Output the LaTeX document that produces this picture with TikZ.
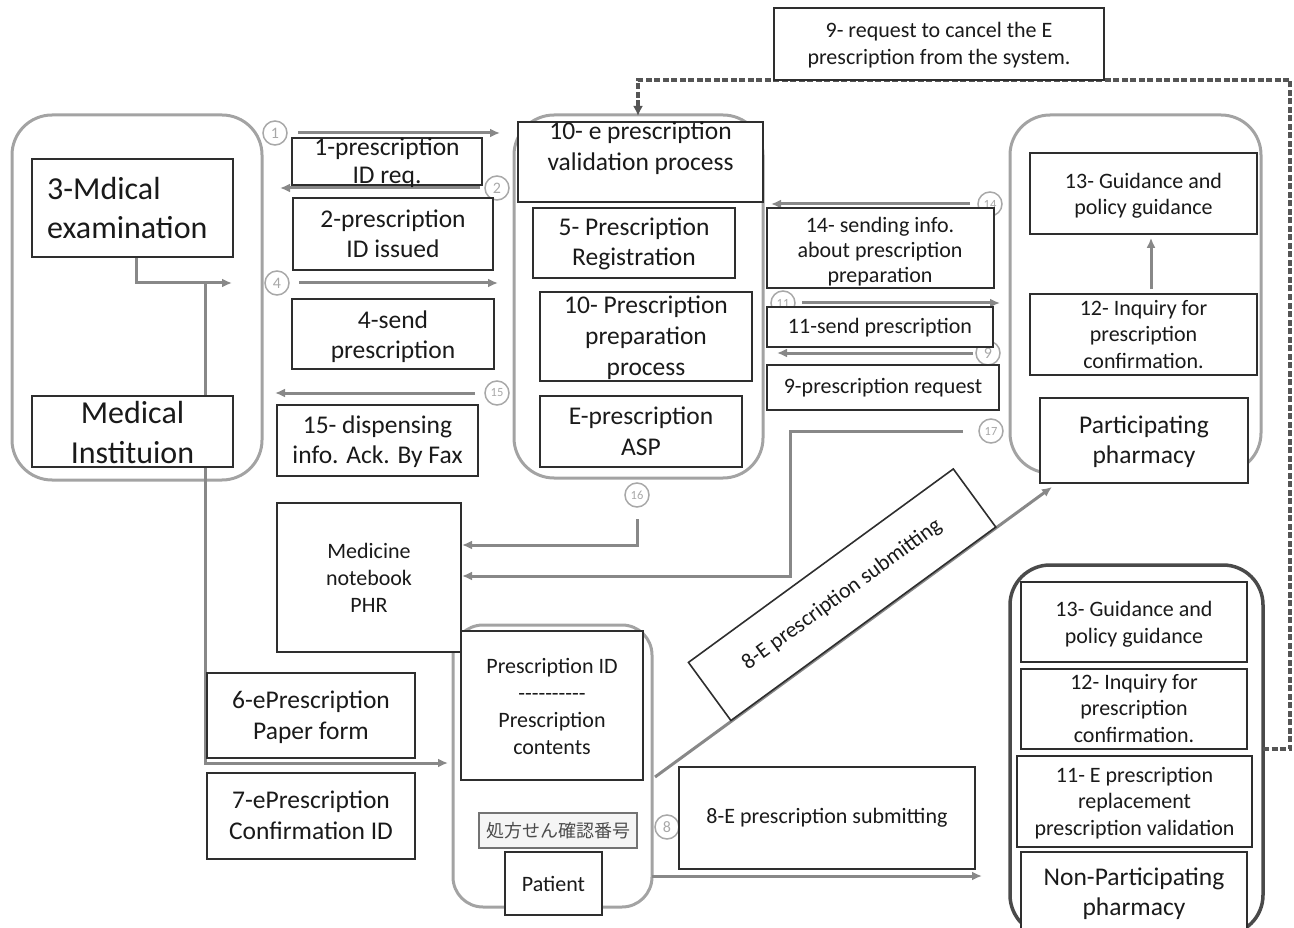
\documentclass[tikz,border=0pt]{standalone}
\usepackage{fontspec}
\setmainfont{Carlito}
\newfontfamily\jpfont{Noto Sans CJK JP}
\usetikzlibrary{arrows.meta}
\pgfdeclarelayer{back}
\pgfdeclarelayer{bg}
\pgfsetlayers{back,bg,main}
\definecolor{txtc}{HTML}{1A1A1A}
\definecolor{boxc}{HTML}{2E2E2E}
\definecolor{outc}{HTML}{A3A3A3}
\definecolor{npc}{HTML}{4A4A4A}
\definecolor{connc}{HTML}{888888}
\definecolor{circc}{HTML}{A8A8A8}
\definecolor{dashc}{HTML}{555555}
\tikzset{
  innerbox/.style={draw=boxc, line width=1.6pt, fill=white, inner sep=0pt},
  outerbox/.style={draw=outc, line width=3pt, rounded corners=40pt, inner sep=0pt},
  conn/.style={draw=connc, line width=3pt},
  arr/.style={conn, -{Latex[length=10pt,width=9pt]}},
  circnum/.style={circle, draw=circc, line width=1.5pt, text=circc, minimum size=24pt, inner sep=0pt, font=\fontsize{16}{16}\selectfont},
  circnumsm/.style={circnum, font=\fontsize{12.5}{12.5}\selectfont},
  lbl/.style={align=center, inner sep=0pt, text=txtc, anchor=north},
  cancelline/.style={draw=dashc, line width=3.4pt, dash pattern=on 6pt off 2.5pt, -{Latex[length=10pt,width=10pt]}},
}
\newcommand\mkbox[5]{\node[innerbox, minimum width={#4-#2}, minimum height={#5-#3}] (#1) at ({(#2+#4)/2},{(#3+#5)/2}) {};}
\newcommand\mklbl[6]{\node[lbl, font=\fontsize{#2}{#3}\selectfont] (#1) at (#4,#5) {#6};}
\begin{document}
\begin{tikzpicture}[x=1pt,y=-1pt]
\useasboundingbox (0,0) rectangle (1294,928);

% outer rounded containers
\begin{pgfonlayer}{back}
\node[outerbox, minimum width=250pt, minimum height=365pt] (medinst) at (137,297.5) {};
\node[outerbox, minimum width=249pt, minimum height=363pt] (aspout) at (638.5,296.5) {};
\node[outerbox, minimum width=251pt, minimum height=358pt] (pharmout) at (1135.5,294) {};
\node[outerbox, rounded corners=30pt, minimum width=199pt, minimum height=282pt] (patout) at (552.5,766) {};
\node[outerbox, draw=npc, line width=3.5pt, minimum width=253pt, minimum height=370pt] (npout) at (1136.5,750) {};
\end{pgfonlayer}

% circled numbers
\node[circnum] (n1) at (275,133) {1};
\node[circnum] (n2) at (497,188) {2};
\node[circnum] (n4) at (277,283) {4};
\node[circnumsm] (n15) at (497,393) {15};
\node[circnumsm] (n14) at (990,204) {14};
\node[circnumsm] (n11) at (783,303) {11};
\node[circnum] (n9) at (988,353) {9};
\node[circnumsm] (n17) at (991,431) {17};
\node[circnumsm] (n16) at (637,495) {16};
\node[circnum] (n8) at (667,827) {8};

% inner boxes
\mkbox{exam}{32}{159}{233}{257}
\mkbox{medname}{32}{396}{233}{467}
\mkbox{b1}{292}{138}{482}{185}
\mkbox{b2}{293}{198}{493}{270}
\mkbox{b4}{292}{299}{494}{369}
\mkbox{b15}{277}{405}{478}{476}
\mkbox{val}{518}{122}{763}{202}
\mkbox{reg}{533}{208}{735}{278}
\mkbox{prep}{540}{292}{752}{381}
\mkbox{easp}{540}{396}{742}{467}
\mkbox{b14}{767}{208}{994}{288}
\mkbox{b11}{767}{307}{993}{347}
\mkbox{b9}{767}{365}{999}{410}
\mkbox{guid}{1030}{153}{1257}{234}
\mkbox{inq}{1030}{294}{1257}{375}
\mkbox{partph}{1040}{398}{1248}{483}
\mkbox{cancel}{774}{8}{1104}{80}
\mkbox{notebook}{277}{503}{461}{652}
\mkbox{pid}{461}{631}{643}{780}
\node[draw=black!55, line width=2.5pt, fill=black!4, inner sep=0pt, minimum width=158pt, minimum height=35pt] (jp) at (558,830.5) {};
\mkbox{pat}{505}{852}{602}{915}
\mkbox{p6}{207}{673}{415}{758}
\mkbox{p7}{207}{773}{415}{859}
\mkbox{sub8}{679}{767}{975}{869}
\mkbox{ng}{1021}{582}{1247}{662}
\mkbox{ni}{1021}{669}{1247}{749}
\mkbox{nr}{1017}{756}{1252}{847}
\mkbox{nn}{1021}{852}{1247}{935}

% diagonal submit box on the line from the patient to the pharmacy
\coordinate (dstart) at (655,777);
\coordinate (dend) at (1052,487);
\path (dstart) -- node[innerbox, pos=0.526, sloped, anchor=south, minimum width=328pt, minimum height=72pt, text=txtc, font=\fontsize{22}{26}\selectfont] (diag8) {8-E prescription submitting} (dend);

% labels
\node[lbl, anchor=north west, align=left, font=\fontsize{32}{39}\selectfont] (t3) at (47,177) {3-Mdical\\examination};
\mklbl{tmed}{32}{40}{132.5}{401}{Medical\\Instituion}
\mklbl{t1}{25.5}{28}{387}{137.4}{1-prescription\\ID req.}
\mklbl{t2}{25.5}{30}{393}{209.4}{2-prescription\\ID issued}
\mklbl{t4}{25.5}{30}{393}{310.4}{4-send\\prescription}
\mklbl{t15}{25.5}{30}{377.5}{415.4}{15- dispensing\\info. Ack. By Fax}
\mklbl{tval}{25.5}{31}{640.5}{121.4}{10- e prescription\\validation process}
\mklbl{treg}{25.5}{30}{634}{217.4}{5- Prescription\\Registration}
\mklbl{tprep}{25.5}{31}{646}{295.4}{10- Prescription\\preparation\\process}
\mklbl{tasp}{25.5}{31}{641}{406.4}{E-prescription\\ASP}
\mklbl{t14}{22}{25}{880}{216.8}{14- sending info.\\about prescription\\preparation}
\mklbl{t11}{22}{25}{880}{317.8}{11-send prescription}
\mklbl{t9}{22}{25}{883}{377.8}{9-prescription request}
\mklbl{tguid}{22}{26}{1143.5}{172.8}{13- Guidance and\\policy guidance}
\mklbl{tinq}{22}{26.5}{1143.5}{299.8}{12- Inquiry for\\prescription\\confirmation.}
\mklbl{tpart}{25.5}{30}{1144}{415.4}{Participating\\pharmacy}
\mklbl{tcancel}{22}{27}{939}{21.8}{9- request to cancel the E\\prescription from the system.}
\mklbl{tnb}{22}{27}{369}{542.8}{Medicine\\notebook\\PHR}
\mklbl{tpid}{22}{27}{552}{657.8}{Prescription ID\\-{}-{}-{}-{}-{}-{}-{}-{}-{}-\\Prescription\\contents}
\mklbl{t6}{25.5}{31}{311}{690.4}{6-ePrescription\\Paper form}
\mklbl{t7}{25.5}{31}{311}{790.4}{7-ePrescription\\Confirmation ID}
\mklbl{tng}{22}{27}{1134}{600.8}{13- Guidance and\\policy guidance}
\mklbl{tni}{22}{26.5}{1134}{673.8}{12- Inquiry for\\prescription\\confirmation.}
\mklbl{tnr}{22}{26.5}{1134.5}{766.8}{11- E prescription\\replacement\\prescription validation}
\mklbl{tnn}{25.5}{30}{1134}{867.4}{Non-Participating\\pharmacy}
\node[lbl, anchor=center, font=\fontsize{22}{26}\selectfont] (tpat) at (pat) {Patient};
\node[lbl, anchor=center, font=\fontsize{22}{26}\selectfont] (tsub) at (sub8) {8-E prescription submitting};
\node[anchor=center, inner sep=0pt, text=black!70, font=\jpfont\fontsize{18}{18}\selectfont] (tjp) at (jp) {処方せん確認番号};

% connectors
\begin{pgfonlayer}{bg}
\coordinate (a1s) at (298,133); \coordinate (a1e) at (500,133);
\coordinate (a2s) at (480,188); \coordinate (a2e) at (280,188);
\coordinate (a4s) at (299,283); \coordinate (a4e) at (498,283);
\coordinate (a15s) at (475,393); \coordinate (a15e) at (275,393);
\coordinate (a14s) at (970,204); \coordinate (a14e) at (771,204);
\coordinate (a11s) at (802,303); \coordinate (a11e) at (1000,303);
\coordinate (a9s) at (973,353); \coordinate (a9e) at (777,353);
\coordinate (a17s) at (963,431); \coordinate (a17k) at (790,431); \coordinate (a17e) at (462,576);
\coordinate (a16s) at (637,519); \coordinate (a16e) at (462,545);
\coordinate (mjoin) at (205,283); \coordinate (mexam) at (232,283); \coordinate (mpat) at (448,763);
\coordinate (ph1) at (652,876); \coordinate (ph2) at (982,876);
\coordinate (dq1) at (1263,749); \coordinate (dq2) at (1290,749);
\coordinate (dq3) at (1290,80); \coordinate (dq4) at (638,80); \coordinate (dq5) at (638,116);

\draw[arr] (a1s) -- (a1e);
\draw[arr] (a2s) -- (a2e);
\draw[arr] (a4s) -- (a4e);
\draw[arr] (a15s) -- (a15e);
\draw[arr] (a14s) -- (a14e);
\draw[arr] (a11s) -- (a11e);
\draw[arr] (a9s) -- (a9e);
\draw[arr] (a17s) -- (a17k) |- (a17e);
\draw[arr] (a16s) |- (a16e);
\draw[arr] ([xshift=3.5pt]exam.south) |- (mexam);
\draw[arr] (mjoin) |- (mpat);
\draw[arr] (ph1) -- (ph2);
\draw[arr] (dstart) -- (dend);
\draw[arr, shorten <=4pt, shorten >=3pt] ([xshift=7.5pt]inq.north) -- ([xshift=7.5pt]guid.south);
\draw[cancelline] (dq1) -- (dq2) -- (dq3) -- (dq4) -- (dq5);
\end{pgfonlayer}
\end{tikzpicture}
\end{document}
